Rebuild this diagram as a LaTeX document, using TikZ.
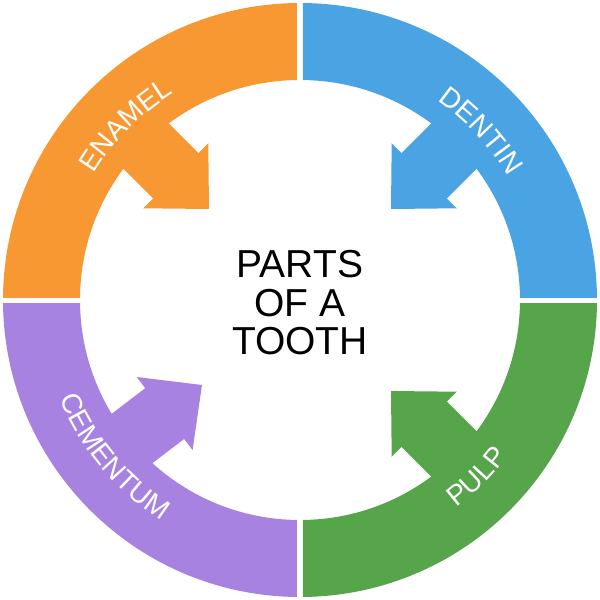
\documentclass[tikz,border=0pt]{standalone}
\usepackage{fontspec}
\setmainfont{Liberation Sans}
\usetikzlibrary{decorations.text}
\definecolor{enamelorange}{RGB}{247,152,50}
\definecolor{dentinblue}{RGB}{74,164,228}
\definecolor{pulpgreen}{RGB}{86,165,74}
\definecolor{cementumpurple}{RGB}{168,130,224}
\newcommand{\ringfont}{\fontsize{28}{28}\selectfont}
\begin{document}
\begin{tikzpicture}[x=1pt,y=1pt,
    ringlabel/.style={decorate,decoration={text along path,text align=center,
        text color=white,text={|\ringfont|#1}}}]
  \useasboundingbox (-300,-300) rectangle (300,300);
  \foreach \qx/\qy/\col/\ang/\tipx/\tipy in
    {-1/1/enamelorange/-45/-91/91, 1/1/dentinblue/-135/91/91,
     1/-1/pulpgreen/135/91/-91, -1/-1/cementumpurple/37.4/-98/-85}
  {
    \begin{scope}
      \clip (3*\qx,3*\qy) rectangle (310*\qx,310*\qy);
      \fill[\col,even odd rule] (0,0) circle[radius=297] (0,0) circle[radius=220];
    \end{scope}
    \begin{scope}[shift={(\tipx,\tipy)},rotate=\ang]
      \fill[\col] (0,0) -- (-47,46) -- (-47,32) -- (-162,32) --
        (-162,-32) -- (-47,-32) -- (-47,-46) -- cycle;
    \end{scope}
  }
  \path[ringlabel=ENAMEL] (180:242) arc[start angle=180,end angle=90,radius=242];
  \path[ringlabel=DENTIN] (88:242) arc[start angle=88,end angle=-2,radius=242];
  \path[ringlabel=CEMENTUM] (175:260) arc[start angle=175,end angle=265,radius=260];
  \path[ringlabel=PULP] (270:260) arc[start angle=270,end angle=360,radius=260];
  \node[align=center,font=\fontsize{39}{38.5}\selectfont] (title) at (0,-3)
    {PARTS\\OF A\\TOOTH};
\end{tikzpicture}
\end{document}
